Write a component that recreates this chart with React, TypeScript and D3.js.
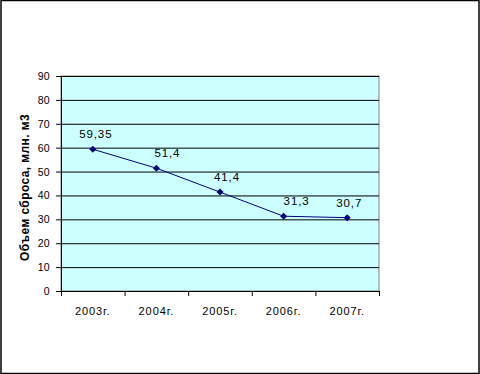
import { useEffect } from 'react'
import * as d3 from 'd3'

const years = ['2003г.', '2004г.', '2005г.', '2006г.', '2007г.']
const values = [59.35, 51.4, 41.4, 31.3, 30.7]
const valueLabels = ['59,35', '51,4', '41,4', '31,3', '30,7']
// manual label nudges as placed in the original chart
const labelDx = [3, 11, 7, 13, 2]
const yTicks = [0, 10, 20, 30, 40, 50, 60, 70, 80, 90]

const W = 480
const H = 374
const plot = { left: 61, right: 379, top: 76, bottom: 291 }
const font = '"Liberation Sans", Arial, sans-serif'

const App = () => {
  useEffect(() => {
    document.body.style.margin = '0'
  }, [])

  const x = d3.scaleBand().domain(years).range([plot.left, plot.right])
  const y = d3.scaleLinear().domain([0, 90]).range([plot.bottom, plot.top])

  const line = d3
    .line<number>()
    .x((_, i) => x(years[i])! + x.bandwidth() / 2)
    .y((d) => y(d))

  const bounds = [...years.map((yr) => x(yr)!), plot.right]

  return (
    <svg width={W} height={H} style={{ display: 'block' }} fontFamily={font}>
      <rect x={0} y={0} width={W} height={H} fill='white' />
      <rect x={1} y={0.5} width={W - 2} height={H - 1} fill='none' stroke='black' strokeWidth={1.5} />

      <rect
        x={plot.left}
        y={plot.top}
        width={plot.right - plot.left}
        height={plot.bottom - plot.top}
        fill='#ccffff'
        stroke='#808080'
      />

      {yTicks.slice(1).map((t) => (
        <line key={t} x1={plot.left} x2={plot.right} y1={y(t) + 0.5} y2={y(t) + 0.5} stroke='black' />
      ))}

      {/* y axis */}
      <line x1={plot.left + 0.5} x2={plot.left + 0.5} y1={plot.top} y2={plot.bottom} stroke='black' />
      {yTicks.map((t) => (
        <g key={t}>
          <line x1={plot.left - 5} x2={plot.left} y1={y(t) + 0.5} y2={y(t) + 0.5} stroke='black' />
          <text x={plot.left - 11} y={y(t) + 4} textAnchor='end' fontSize={10.5} letterSpacing={0.3}>
            {t}
          </text>
        </g>
      ))}

      {/* x axis */}
      <line x1={plot.left} x2={plot.right} y1={plot.bottom + 0.5} y2={plot.bottom + 0.5} stroke='black' />
      {bounds.map((b, i) => (
        <line key={i} x1={b + 0.5} x2={b + 0.5} y1={plot.bottom} y2={plot.bottom + 5} stroke='black' />
      ))}
      {years.map((yr) => (
        <text key={yr} x={x(yr)! + x.bandwidth() / 2} y={315} textAnchor='middle' fontSize={11} letterSpacing={0.9}>
          {yr}
        </text>
      ))}

      <text
        transform={`translate(29, ${(plot.top + plot.bottom) / 2 + 4}) rotate(-90)`}
        textAnchor='middle'
        fontSize={12}
        fontWeight='bold'
        letterSpacing={0.4}
      >
        Объем сброса, млн. м3
      </text>

      <path d={line(values) ?? ''} fill='none' stroke='#000080' strokeWidth={1} />
      {values.map((v, i) => {
        const cx = x(years[i])! + x.bandwidth() / 2
        const cy = y(v)
        return (
          <g key={i}>
            <path d={`M${cx},${cy - 3.5}L${cx + 3.5},${cy}L${cx},${cy + 3.5}L${cx - 3.5},${cy}Z`} fill='#000080' />
            <text x={cx + labelDx[i]} y={cy - 11} textAnchor='middle' fontSize={11.5} letterSpacing={0.9}>
              {valueLabels[i]}
            </text>
          </g>
        )
      })}
    </svg>
  )
}

export default App
